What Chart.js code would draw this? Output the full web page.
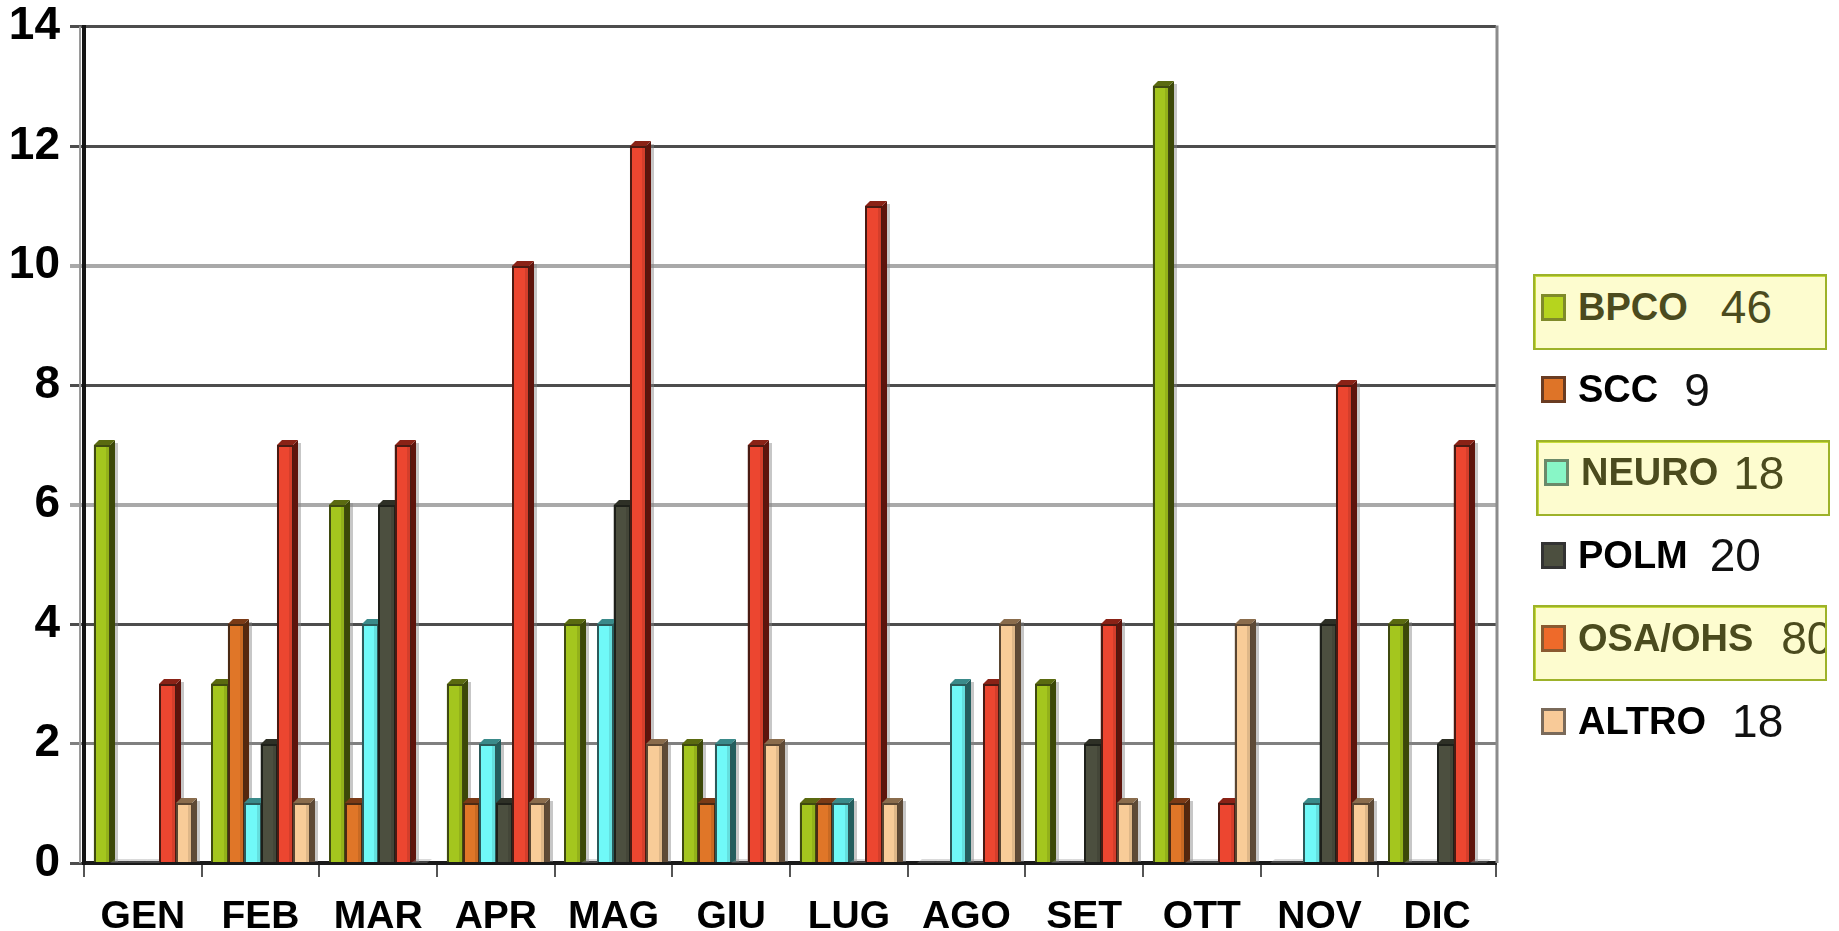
<!DOCTYPE html>
<html>
<head>
<meta charset="utf-8">
<script src="https://cdn.jsdelivr.net/npm/chart.js@4"></script>
<style>
  html, body { margin:0; padding:0; background:#ffffff; }
  #wrap { position:relative; width:1839px; height:931px; overflow:hidden; }
  #c { position:absolute; left:0; top:0; }
  .lg-row { position:absolute; left:1533px; width:294px; height:76px; box-sizing:border-box; padding-bottom:10px;
            display:flex; align-items:center; font-family:"Liberation Sans", Arial, sans-serif; white-space:nowrap; overflow:hidden; }
  .lg-row.hl { background:#fdfccf; border:2px solid #9db22a; box-shadow: inset 1px 1px 0 #c8dc3a; }
  .lg-sw { width:25px; height:27px; box-sizing:border-box; margin-left:6px; margin-right:12px; flex:none; }
  .lg-lab { font-weight:bold; font-size:38px; color:#000; }
  .lg-row.hl .lg-lab { color:#4b4b1e; }
  .lg-num { font-size:46px; color:#111; }
  .lg-row.hl .lg-num { color:#4b4b1e; }
</style>
</head>
<body>
<div id="wrap">
  <canvas id="c" width="1839" height="931"></canvas>
  <div id="legend"></div>
</div>
<script>
// ---- data ----
const categories = ['GEN','FEB','MAR','APR','MAG','GIU','LUG','AGO','SET','OTT','NOV','DIC'];
const seriesNames = ['BPCO','SCC','NEURO','POLM','OSA/OHS','ALTRO'];
const bpco  = [7,3,6,3,4,2,1,0,3,13,0,4];
const scc   = [0,4,1,1,0,1,1,0,0,1,0,0];
const neuro = [0,1,4,2,4,2,1,3,0,0,1,0];
const polm  = [0,2,6,1,6,0,0,0,2,0,4,2];
const osa   = [3,7,7,10,12,7,11,3,4,1,8,7];
const altro = [1,1,0,1,2,2,1,4,1,4,1,0];
const legendTotals = ['46','9','18','20','80','18'];
const yTickValues = [0,2,4,6,8,10,12,14];

// ---- styles ----
const faceColors = ['#a4c61e','#e07628','#70f9f8','#4c4f3f','#ec4630','#f8cc98'];
const topColors  = ['#5a6a10','#7a3a16','#3a8a8a','#2e3026','#8a2216','#8a6c4c'];
const sideColors = ['#3c4808','#55280e','#245e5e','#262820','#5e140c','#5e4a36'];
const edgeColors = ['#3f4a10','#4a2a14','#2c5a5a','#1e201a','#4a1a12','#5a4632'];
const legendSwatch = ['#b6d41e','#de7428','#88f6c6','#4c4f3f','#ee6a2a','#f8ca98'];
const legendSwBorder = ['#7f8a2a','#6a3c22','#6a8a6a','#333333','#8a5a30','#7a6a5a'];
const highlighted = [true,false,true,false,true,false];
const legendNumGap = [33,26,15,22,28,26];
const legendLeft = [1533,1533,1536,1533,1533,1533];

const seriesData = [bpco, scc, neuro, polm, osa, altro];

const datasets = seriesData.map((d,i)=>({
  label: seriesNames[i],
  data: d,
  backgroundColor: faceColors[i],
  borderColor: edgeColors[i],
  borderWidth: 1,
  barPercentage: 1.0,
  categoryPercentage: 0.835
}));

function gridColor(v){
  if (v===2) return '#808080';
  if (v===6 || v===10) return '#a9a9a9';
  return '#4d4d4d';
}
function gridWidth(v){
  if (v===6 || v===10) return 4;
  return 3;
}

function poly(ctx, pts, fill){
  ctx.beginPath();
  ctx.moveTo(pts[0][0], pts[0][1]);
  for (let k=1;k<pts.length;k++) ctx.lineTo(pts[k][0], pts[k][1]);
  ctx.closePath();
  ctx.fillStyle = fill;
  ctx.fill();
}

const bar3d = {
  id:'bar3d',
  afterDatasetsDraw(chart){
    const ctx = chart.ctx;
    const n = chart.data.labels.length;
    const d = 5;
    ctx.save();
    for (let j=0;j<n;j++){
      chart.data.datasets.forEach((ds,i)=>{
        const el = chart.getDatasetMeta(i).data[j];
        if (!el) return;
        const p = el.getProps(['x','y','base','width'], true);
        const left = Math.round(p.x - p.width/2), right = Math.round(p.x + p.width/2);
        const top = Math.round(Math.min(p.y, p.base)), bottom = Math.round(Math.max(p.y, p.base));
        if (ds.data[j] <= 0) {
          poly(ctx, [[left,bottom],[left+d,bottom-d+1],[right+d,bottom-d+1],[right,bottom]], 'rgba(150,150,150,0.35)');
          return;
        }
        ctx.fillStyle = 'rgba(130,130,130,0.45)';
        ctx.fillRect(right + d, top - d + 3, 3, bottom - top + d - 3);
        poly(ctx, [[right,top],[right+d,top-d],[right+d,bottom],[right,bottom]], sideColors[i]);
        poly(ctx, [[left,top],[left+d,top-d],[right+d,top-d],[right,top]], topColors[i]);
        ctx.fillStyle = edgeColors[i];
        ctx.fillRect(left, top, right-left, bottom-top);
        ctx.fillStyle = faceColors[i];
        ctx.fillRect(left+2, top+2, right-left-3, bottom-top-2);
        ctx.fillStyle = 'rgba(0,0,0,0.10)';
        ctx.fillRect(right-4, top+2, 3, bottom-top-2);
      });
    }
    ctx.restore();
  },
  afterDraw(chart){
    const a = chart.chartArea, ctx = chart.ctx;
    ctx.save();
    ctx.strokeStyle = '#8c8c8c';
    ctx.lineWidth = 3;
    ctx.beginPath();
    ctx.moveTo(a.right+1, a.top-1);
    ctx.lineTo(a.right+1, a.bottom);
    ctx.stroke();
    ctx.strokeStyle = '#9a9a9a';
    ctx.lineWidth = 2;
    ctx.beginPath();
    ctx.moveTo(a.left-4, a.top);
    ctx.lineTo(a.left-4, a.bottom);
    ctx.stroke();
    ctx.restore();
  }
};

Chart.defaults.font.family = '"Liberation Sans", Arial, sans-serif';

new Chart(document.getElementById('c'), {
  type:'bar',
  data:{ labels: categories, datasets },
  options:{
    responsive:false,
    devicePixelRatio:1,
    animation:false,
    layout:{ padding:{ left:0, right:343, top:0, bottom:0 } },
    plugins:{ legend:{ display:false }, tooltip:{ enabled:false } },
    scales:{
      x:{
        grid:{ display:true, drawOnChartArea:false, drawTicks:true, tickLength:14, color:'#555', lineWidth:2, offset:true },
        border:{ display:true, color:'#1a1a1a', width:4 },
        ticks:{ color:'#000', padding:21, font:{ size:39, weight:'bold', lineHeight:1.0 } },
        afterFit(s){ s.height = 68; }
      },
      y:{
        min:0, max:14,
        afterBuildTicks(s){ s.ticks = yTickValues.map(v=>({value:v})); },
        grid:{
          color: c => gridColor(c.tick ? c.tick.value : 0),
          lineWidth: c => gridWidth(c.tick ? c.tick.value : 0),
          tickLength:14, drawTicks:true
        },
        border:{ display:true, color:'#141414', width:4 },
        ticks:{ color:'#000', padding:10, font:{ size:46, weight:'bold', lineHeight:0.72 } },
        afterFit(s){ s.width = 84; }
      }
    }
  },
  plugins:[bar3d]
});

// ---- legend (HTML text) ----
const lg = document.getElementById('legend');
seriesNames.forEach((name,i)=>{
  const row = document.createElement('div');
  row.className = 'lg-row' + (highlighted[i] ? ' hl' : '');
  const center = 307 + i*82.8;
  row.style.top = (center - 33) + 'px';
  row.style.left = legendLeft[i] + 'px';
  if (!highlighted[i]) { row.style.border = '2px solid transparent'; }
  const sw = document.createElement('span');
  sw.className = 'lg-sw';
  sw.style.background = legendSwatch[i];
  sw.style.border = '3px solid ' + legendSwBorder[i];
  const lab = document.createElement('span');
  lab.className = 'lg-lab';
  lab.textContent = name;
  const num = document.createElement('span');
  num.className = 'lg-num';
  num.style.marginLeft = legendNumGap[i] + 'px';
  num.textContent = legendTotals[i];
  row.appendChild(sw); row.appendChild(lab); row.appendChild(num);
  lg.appendChild(row);
});
</script>
</body>
</html>
